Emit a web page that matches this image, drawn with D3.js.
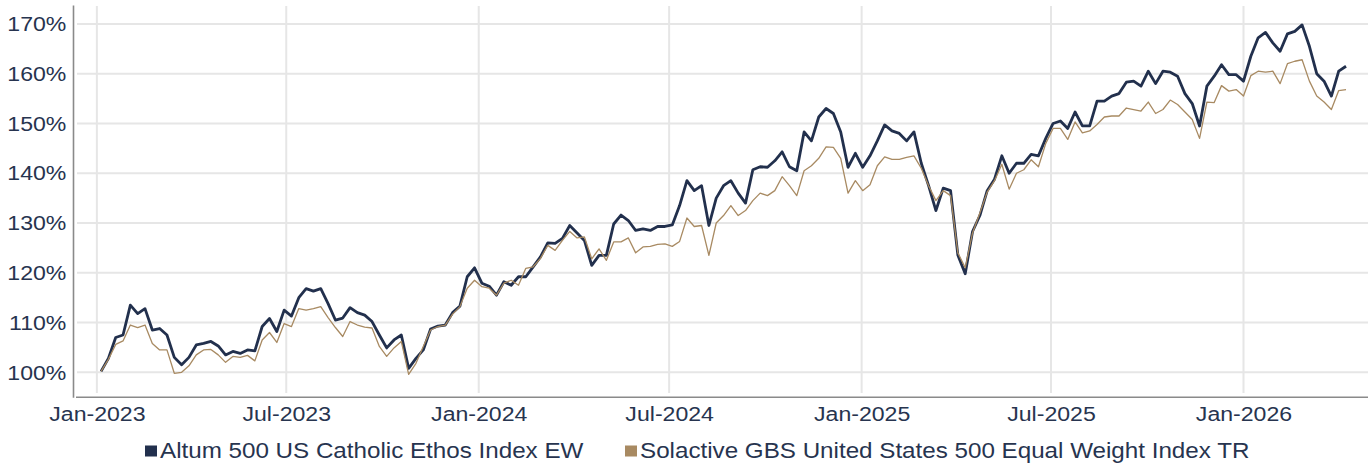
<!DOCTYPE html>
<html>
<head>
<meta charset="utf-8">
<script src="https://cdn.jsdelivr.net/npm/d3@7"></script>
<style>
  body { margin: 0; background: #fff; }
  #wrapper svg { display: block; }
</style>
</head>
<body>
<div id="wrapper"></div>
<script>
// weekly closes, first point 5 Jan 2023
const startDate = "2023-01-05";
const altum = [
  100.2, 102.8, 107.0, 107.5, 113.5, 111.8, 112.8, 108.5, 108.8, 107.5,
  103.0, 101.5, 103.0, 105.5, 105.8, 106.2, 105.3, 103.5, 104.2, 103.8,
  104.5, 104.3, 109.2, 110.8, 108.2, 112.5, 111.3, 115.0, 116.8, 116.3,
  116.8, 113.8, 110.5, 110.9, 113.0, 112.0, 111.5, 110.2, 107.5, 104.9,
  106.5, 107.5, 100.8, 102.8, 104.5, 108.7, 109.3, 109.5, 112.0, 113.3,
  119.2, 121.0, 117.9, 117.3, 115.5, 118.2, 117.5, 119.2, 119.2, 121.2,
  123.2, 126.0, 125.9, 126.9, 129.5, 128.0, 126.5, 121.5, 123.5, 123.5,
  129.8, 131.6, 130.5, 128.5, 128.8, 128.5, 129.3, 129.3, 129.6, 133.5,
  138.5, 136.5, 137.5, 129.5, 135.0, 137.5, 138.5, 136.0, 134.0, 140.7,
  141.3, 141.2, 142.5, 144.3, 141.3, 140.5, 148.3, 146.5, 151.3, 153.0,
  152.0, 148.3, 141.2, 144.0, 141.2, 143.5, 146.5, 149.7, 148.5, 148.0,
  146.5, 148.3, 142.0, 137.5, 132.5, 137.0, 136.5, 123.5, 119.8, 128.3,
  131.5, 136.5, 138.8, 143.5, 140.0, 142.0, 142.0, 143.8, 143.5, 147.0,
  150.0, 150.5, 149.0, 152.3, 149.5, 149.5, 154.5, 154.5, 155.5, 156.0,
  158.3, 158.5, 157.5, 160.5, 158.0, 160.5, 160.3, 159.5, 156.0, 154.0,
  149.5, 157.5, 159.5, 161.8, 159.8, 159.8, 158.5, 163.5, 167.2, 168.3,
  166.2, 164.5, 168.0, 168.5, 169.8, 165.5, 160.0, 158.5, 155.5, 160.5,
  161.5
];
const solactive = [
  100.2, 102.6, 105.6, 106.3, 109.5, 109.0, 109.5, 105.8, 104.5, 104.5,
  99.8, 100.0, 101.3, 103.5, 104.5, 104.6, 103.5, 102.0, 103.2, 103.0,
  103.4, 102.3, 106.5, 108.0, 106.0, 109.8, 109.2, 112.8, 112.5, 112.8,
  113.2, 111.0, 109.0, 107.2, 110.2, 109.5, 109.1, 108.9, 105.2, 103.2,
  104.9, 106.2, 99.6, 101.8, 105.2, 108.5, 109.2, 109.5, 111.7, 113.2,
  116.9, 118.5, 117.2, 116.9, 115.5, 117.9, 118.5, 117.5, 120.9, 121.2,
  122.9, 125.5, 124.5, 126.5, 128.3, 127.0, 127.2, 122.8, 124.8, 122.5,
  126.2, 126.2, 127.0, 124.0, 125.2, 125.3, 125.7, 125.8, 125.3, 126.3,
  131.0, 129.3, 129.5, 123.5, 130.0, 131.5, 133.5, 131.5, 132.5, 134.5,
  136.0, 135.5, 136.5, 139.3, 137.5, 135.5, 140.5, 141.5, 143.0, 145.3,
  145.2, 143.0, 136.0, 138.5, 136.5, 137.7, 141.5, 143.3, 142.8, 142.8,
  143.2, 143.5, 141.0, 137.5, 134.5, 136.5, 135.5, 124.0, 121.0, 128.0,
  132.0, 136.2, 138.5, 141.8, 136.8, 140.0, 140.7, 142.7, 141.3, 146.0,
  149.0, 149.0, 146.8, 150.3, 148.1, 148.5, 149.8, 151.3, 151.5, 151.5,
  153.1, 152.8, 152.5, 154.3, 152.0, 152.8, 154.7, 153.8, 152.3, 150.8,
  147.0, 154.3, 154.2, 157.6, 156.5, 156.8, 155.5, 159.6, 160.5, 160.3,
  160.5, 158.0, 162.0, 162.5, 162.8, 158.5, 155.5, 154.3, 152.8, 156.6,
  156.8
];
const seriesNames = ["Altum 500 US Catholic Ethos Index EW", "Solactive GBS United States 500 Equal Weight Index TR"];
const seriesColors = ["#22304d", "#a88a62"];
const yTicks = [100, 110, 120, 130, 140, 150, 160, 170];
const xTicks = ["2023-01-01", "2023-07-01", "2024-01-01", "2024-07-01", "2025-01-01", "2025-07-01", "2026-01-01"];

const parse = d3.timeParse("%Y-%m-%d");
const start = parse(startDate);
const dates = altum.map((d, i) => d3.timeDay.offset(start, i * 7));

const dimensions = {
  width: 1368,
  height: 466,
  left: 77,
  right: 1368,
  top: 5,
  bottom: 397.2
};
const textColor = "#27344f";
const stretch = "scale(1.1,1)";

const svg = d3.select("#wrapper")
  .append("svg")
  .attr("width", dimensions.width)
  .attr("height", dimensions.height)
  .style("font-family", "'Liberation Sans', Arial, sans-serif");

const xScale = d3.scaleTime()
  .domain([parse("2022-12-13"), parse("2026-04-30")])
  .range([dimensions.left, dimensions.right]);

const yScale = d3.scaleLinear()
  .domain([95, 173.8])
  .range([dimensions.bottom, dimensions.top]);

// grid
svg.append("g")
  .selectAll("line")
  .data(yTicks)
  .enter()
  .append("line")
  .attr("x1", dimensions.left)
  .attr("x2", dimensions.right)
  .attr("y1", d => yScale(d))
  .attr("y2", d => yScale(d))
  .attr("stroke", "#e6e6e6")
  .attr("stroke-width", 2);

svg.append("g")
  .selectAll("line")
  .data(xTicks.map(parse))
  .enter()
  .append("line")
  .attr("x1", d => xScale(d))
  .attr("x2", d => xScale(d))
  .attr("y1", 6)
  .attr("y2", 393)
  .attr("stroke", "#e6e6e6")
  .attr("stroke-width", 2);

// axes
const yAxis = svg.append("g")
  .attr("transform", "translate(73,0)")
  .call(d3.axisLeft(yScale).tickValues(yTicks).tickSize(0).tickSizeOuter(0).tickPadding(6).tickFormat(d => d + "%"));

const xAxis = svg.append("g")
  .attr("transform", `translate(0,${dimensions.bottom})`)
  .call(d3.axisBottom(xScale).tickValues(xTicks.map(parse)).tickSize(0).tickSizeOuter(0).tickPadding(9).tickFormat(d3.timeFormat("%b-%Y")));

[yAxis, xAxis].forEach(ax => {
  ax.select(".domain").attr("stroke", "#8a8a8a").attr("stroke-width", 1.6);
  ax.selectAll("text")
    .attr("fill", textColor)
    .style("font-size", "21px")
    .attr("transform", stretch);
});
xAxis.select(".domain").attr("d", `M76,0H${dimensions.right}`);

// lines
const line = d3.line()
  .x((d, i) => xScale(dates[i]))
  .y(d => yScale(d));

svg.append("path")
  .datum(altum)
  .attr("fill", "none")
  .attr("stroke", seriesColors[0])
  .attr("stroke-width", 2.8)
  .attr("stroke-linejoin", "round")
  .attr("d", line);

svg.append("path")
  .datum(solactive)
  .attr("fill", "none")
  .attr("stroke", seriesColors[1])
  .attr("stroke-width", 1.3)
  .attr("stroke-linejoin", "round")
  .attr("d", line);

// legend
const legendX = [145, 625];
const legend = svg.append("g")
  .selectAll("g")
  .data(seriesNames)
  .enter()
  .append("g");

legend.append("rect")
  .attr("x", (d, i) => legendX[i])
  .attr("y", 445.5)
  .attr("width", 12)
  .attr("height", 11)
  .attr("fill", (d, i) => seriesColors[i]);

legend.append("text")
  .attr("transform", (d, i) => `translate(${legendX[i] + 15},457.5) ${stretch}`)
  .attr("fill", textColor)
  .style("font-size", "22px")
  .text(d => d);
</script>
</body>
</html>
